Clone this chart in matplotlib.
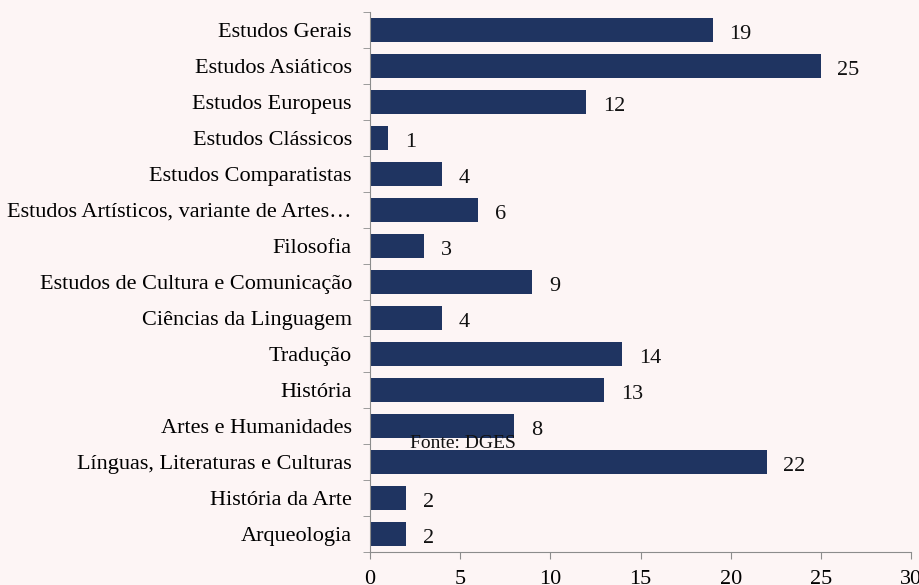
import numpy as np
import matplotlib.pyplot as plt

categories = ['Estudos Gerais', 'Estudos Asiáticos', 'Estudos Europeus',
              'Estudos Clássicos', 'Estudos Comparatistas',
              'Estudos Artísticos, variante de Artes…', 'Filosofia',
              'Estudos de Cultura e Comunicação', 'Ciências da Linguagem',
              'Tradução', 'História', 'Artes e Humanidades',
              'Línguas, Literaturas e Culturas', 'História da Arte', 'Arqueologia']
values = [19, 25, 12, 1, 4, 6, 3, 9, 4, 14, 13, 8, 22, 2, 2]
xticks = [0, 5, 10, 15, 20, 25, 30]

plt.rcParams['font.family'] = ['Liberation Serif', 'DejaVu Serif']
bg = '#fdf5f5'
bar_color = '#1f3461'
spine_color = '#8c8c8c'

fig = plt.figure(figsize=(9.19, 5.85), dpi=100, facecolor=bg)
ax = fig.add_axes([370/919, 1 - 552/585, 541/919, 540/585], facecolor=bg)

y = np.arange(len(categories))
ax.barh(y, values, height=0.66, color=bar_color)
for yi, v in zip(y, values):
    ax.annotate(str(v), (v, yi), xytext=(12, -3), textcoords='offset points',
                ha='left', va='center', fontsize=16, color='#111111')

ax.set_ylim(len(categories) - 0.5, -0.5)
ax.set_xlim(0, 30)
ax.set_xticks(xticks)
ax.set_yticks(y)
ax.set_yticklabels(categories, fontsize=16)
ax.set_yticks(np.arange(-0.5, len(categories), 1), minor=True)
ax.tick_params(axis='y', which='major', length=0, pad=13)
ax.tick_params(axis='y', which='minor', length=5, color=spine_color, direction='out')
ax.tick_params(axis='x', length=5, color=spine_color, direction='out', labelsize=16, pad=8)
for s in ['top', 'right']:
    ax.spines[s].set_visible(False)
for s in ['left', 'bottom']:
    ax.spines[s].set_color(spine_color)

fig.text(410/919, 1 - 443/585, 'Fonte: DGES', fontsize=14, ha='left', va='center', color='#111111')

fig.savefig('out.png', dpi=100, facecolor=bg)
